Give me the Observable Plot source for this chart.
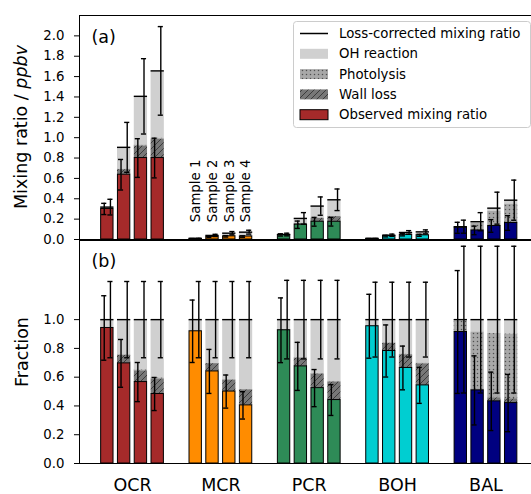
<!DOCTYPE html>
<html><head><meta charset="utf-8">
<script src="https://cdn.jsdelivr.net/npm/d3@7"></script>
<script src="https://cdn.jsdelivr.net/npm/@observablehq/plot@0.6"></script>
<style>
html,body{margin:0;padding:0;overflow:hidden;background:#fff;}
#wrap{position:relative;width:531px;height:494px;overflow:hidden;font-family:"DejaVu Sans",sans-serif;}
#wrap svg{display:block;max-width:none !important;}
</style></head><body>
<svg width="0" height="0" style="position:absolute">
<defs>
<pattern id="hatchWall" patternUnits="userSpaceOnUse" width="6" height="6">
<rect width="6" height="6" fill="#787878"/>
<path d="M-1,1 l2,-2 M0,6 l6,-6 M5,7 l2,-2" stroke="#3c3c3c" stroke-width="1"/>
</pattern>
<pattern id="dotPhot" patternUnits="userSpaceOnUse" width="4" height="4">
<rect width="4" height="4" fill="#a8a8a8"/>
<circle cx="1.5" cy="1.5" r="0.75" fill="#505050"/>
</pattern>
</defs></svg>
<div id="wrap"></div>
<script>
// ---------- data ----------
const groups = ["OCR", "MCR", "PCR", "BOH", "BAL"];
const colors = ["#a52a2a", "#ff8c00", "#2e8b57", "#00ced1", "#000080"];
const samples = ["Sample 1", "Sample 2", "Sample 3", "Sample 4"];
const ticksA = [0.0, 0.2, 0.4, 0.6, 0.8, 1.0, 1.2, 1.4, 1.6, 1.8, 2.0];
const ticksB = [0.0, 0.2, 0.4, 0.6, 0.8, 1.0];
const legendLabels = ["Loss-corrected mixing ratio", "OH reaction", "Photolysis", "Wall loss", "Observed mixing ratio"];

// Panel (a): mixing ratios in ppbv, [group][sample]
const obsA  = [[0.300, 0.636, 0.800, 0.800], [0.008, 0.026, 0.031, 0.029], [0.045, 0.145, 0.174, 0.174], [0.008, 0.033, 0.046, 0.041], [0.115, 0.089, 0.133, 0.162]];
const wallA = [[0.002, 0.050, 0.118, 0.184], [0.000, 0.002, 0.005, 0.008], [0.001, 0.012, 0.033, 0.051], [0.000, 0.0023, 0.0066, 0.0116], [0.000, 0.0018, 0.0077, 0.0116]];
const photA = [[0.001, 0.005, 0.010, 0.010], [0.000, 0.000, 0.000, 0.000], [0.000, 0.003, 0.003, 0.003], [0.000, 0.0003, 0.0004, 0.0004], [0.0096, 0.069, 0.137, 0.174]];
const ohA   = [[0.015, 0.214, 0.478, 0.662], [0.0007, 0.012, 0.026, 0.035], [0.003, 0.047, 0.118, 0.162], [0.0004, 0.0064, 0.016, 0.022], [0.0013, 0.015, 0.030, 0.0386]];
const errObsA = [[0.055, 0.150, 0.190, 0.195], [0.002, 0.006, 0.007, 0.007], [0.011, 0.036, 0.043, 0.042], [0.0019, 0.0076, 0.0106, 0.0094], [0.054, 0.042, 0.062, 0.072]];
const errTotA = [[0.077, 0.245, 0.370, 0.435], [0.0025, 0.011, 0.016, 0.019], [0.013, 0.057, 0.090, 0.106], [0.0022, 0.011, 0.018, 0.0195], [0.064, 0.089, 0.157, 0.197]];

// Panel (b): fractions of the loss-corrected mixing ratio
const obsB  = [[0.942, 0.696, 0.566, 0.483], [0.919, 0.640, 0.500, 0.404], [0.926, 0.675, 0.524, 0.441], [0.954, 0.782, 0.664, 0.543], [0.914, 0.508, 0.432, 0.420]];
const wallB = [[0.000, 0.056, 0.078, 0.105], [0.000, 0.054, 0.080, 0.108], [0.004, 0.058, 0.097, 0.125], [0.002, 0.054, 0.092, 0.150], [0.000, 0.010, 0.025, 0.030]];
const photB = [[0.003, 0.004, 0.006, 0.006], [0.002, 0.002, 0.003, 0.003], [0.002, 0.002, 0.004, 0.005], [0.001, 0.002, 0.003, 0.005], [0.076, 0.396, 0.446, 0.450]];
const ohB   = [[0.055, 0.244, 0.350, 0.406], [0.079, 0.304, 0.417, 0.485], [0.068, 0.265, 0.375, 0.429], [0.043, 0.162, 0.241, 0.302], [0.010, 0.086, 0.097, 0.100]];
const errObsB = [[0.224, 0.166, 0.136, 0.115], [0.217, 0.153, 0.115, 0.095], [0.225, 0.167, 0.129, 0.107], [0.222, 0.181, 0.152, 0.125], [0.427, 0.240, 0.203, 0.199]];
const errTotB = [[0.265, 0.265, 0.265, 0.265], [0.265, 0.265, 0.265, 0.265], [0.273, 0.273, 0.273, 0.273], [0.260, 0.260, 0.260, 0.260], [0.510, 0.510, 0.510, 0.510]];

// ---------- layout ----------
const W = 540;                 // figure is wider than the window; right edge cropped
const xDom = [-0.6, 4.6];
const pitch = 0.19, halfBar = 0.075, halfObs = 0.07, errOff = 0.035, capHalf = 0.029;
const fontFam = "DejaVu Sans, sans-serif";
const groupIdx = groups.map((_, i) => i);

function build(obs, wall, phot, oh, eObs, eTot) {
  const out = [];
  groups.forEach((g, gi) => samples.forEach((s, si) => {
    const o = obs[gi][si], w = wall[gi][si], p = phot[gi][si], h = oh[gi][si];
    out.push({gi, si, x: gi + (si - 1.5) * pitch, obs: o, b2: o + w, b3: o + w + p, tot: o + w + p + h,
              eo: eObs[gi][si], et: eTot[gi][si], color: colors[gi]});
  }));
  return out;
}

function barMarks(D) {
  const xa = d => d.x - halfBar, xb = d => d.x + halfBar;
  const xo = d => d.x - errOff, xt = d => d.x + errOff;
  const eb = {stroke: "black", strokeWidth: 1.4};
  return [
    Plot.rect(D, {x1: xa, x2: xb, y1: "b3", y2: "tot", fill: "#d0d0d0"}),
    Plot.rect(D, {x1: xa, x2: xb, y1: "b2", y2: "b3", fill: "url(#dotPhot)"}),
    Plot.rect(D, {x1: xa, x2: xb, y1: "obs", y2: "b2", fill: "url(#hatchWall)"}),
    Plot.rect(D, {x1: d => d.x - halfObs, x2: d => d.x + halfObs, y1: 0, y2: "obs", fill: "color", stroke: "black", strokeWidth: 1}),
    Plot.ruleY(D, {x1: xa, x2: xb, y: "tot", stroke: "black", strokeWidth: 1.4}),
    Plot.ruleX(D, {x: xo, y1: d => d.obs - d.eo, y2: d => d.obs + d.eo, ...eb}),
    Plot.ruleY(D, {x1: d => xo(d) - capHalf, x2: d => xo(d) + capHalf, y: d => d.obs - d.eo, ...eb}),
    Plot.ruleY(D, {x1: d => xo(d) - capHalf, x2: d => xo(d) + capHalf, y: d => d.obs + d.eo, ...eb}),
    Plot.ruleX(D, {x: xt, y1: d => d.tot - d.et, y2: d => d.tot + d.et, ...eb}),
    Plot.ruleY(D, {x1: d => xt(d) - capHalf, x2: d => xt(d) + capHalf, y: d => d.tot - d.et, ...eb}),
    Plot.ruleY(D, {x1: d => xt(d) - capHalf, x2: d => xt(d) + capHalf, y: d => d.tot + d.et, ...eb})
  ];
}

const A = build(obsA, wallA, photA, ohA, errObsA, errTotA);
const B = build(obsB, wallB, photB, ohB, errObsB, errTotB);
const yDomA = [0, 2.2], yDomB = [0, 1.55];
const style = {fontFamily: fontFam, fontSize: "13.3px", color: "black", background: "transparent", overflow: "visible", maxWidth: "none"};

const plotA = Plot.plot({
  width: W, height: 240, marginLeft: 79, marginRight: 1.5, marginTop: 15, marginBottom: 1,
  x: {domain: xDom, axis: null}, y: {domain: yDomA, axis: null}, color: {type: "identity"},
  style,
  marks: [
    ...barMarks(A),
    Plot.text(samples, {x: (d, i) => 1 + (i - 1.5) * pitch, y: 0.17, text: d => d, rotate: -90, textAnchor: "start", lineAnchor: "middle", fontSize: 13.3}),
    Plot.axisY({ticks: ticksA, tickFormat: d3.format(".1f"), tickSize: 5, tickPadding: 10, label: null, fontSize: 13.3}),
    Plot.ruleX([xDom[0]], {stroke: "black", strokeWidth: 1}),
    Plot.ruleY([yDomA[1]], {stroke: "black", strokeWidth: 1}),
    Plot.ruleY([0], {stroke: "black", strokeWidth: 1}),
    Plot.text(["(a)"], {frameAnchor: "top-left", dx: 12, dy: 22, textAnchor: "start", lineAnchor: "middle", fontSize: 17.5})
  ]
});

const plotB = Plot.plot({
  width: W, height: 254, marginLeft: 79, marginRight: 1.5, marginTop: 0, marginBottom: 31,
  x: {domain: xDom, axis: null}, y: {domain: yDomB, axis: null}, color: {type: "identity"},
  style,
  marks: [
    ...barMarks(B),
    Plot.axisY({ticks: ticksB, tickFormat: d3.format(".1f"), tickSize: 5, tickPadding: 10, label: null, fontSize: 13.3}),
    Plot.axisX({ticks: groupIdx, tickFormat: i => groups[i], tickSize: 0, tickPadding: 15, label: null, fontSize: 17.5}),
    Plot.ruleX([xDom[0]], {stroke: "black", strokeWidth: 1}),
    Plot.ruleY([yDomB[1]], {stroke: "black", strokeWidth: 1}),
    Plot.ruleY([0], {stroke: "black", strokeWidth: 1}),
    Plot.text(["(b)"], {frameAnchor: "top-left", dx: 12, dy: 21, textAnchor: "start", lineAnchor: "middle", fontSize: 17.5})
  ]
});

const wrap = document.getElementById("wrap");
for (const p of [plotA, plotB]) { p.style.maxWidth = "none"; p.style.width = W + "px"; p.style.height = p.getAttribute("height") + "px"; }
wrap.appendChild(plotA);
wrap.appendChild(plotB);

// y-axis titles
function yTitle(svg, cx, cy, parts) {
  const t = d3.select(svg).append("text")
    .attr("transform", `translate(${cx},${cy}) rotate(-90)`)
    .attr("text-anchor", "middle").attr("dominant-baseline", "central")
    .attr("font-family", fontFam).attr("font-size", 17.5).attr("fill", "black");
  parts.forEach(p => t.append("tspan").attr("font-style", p.italic ? "italic" : "normal").text(p.text));
}
yTitle(plotA, 21, 127, [{text: "Mixing ratio / "}, {text: "ppbv", italic: true}]);
yTitle(plotB, 22, 112, [{text: "Fraction"}]);

// legend (inside panel a, upper right)
const leg = d3.select(wrap).append("svg")
  .attr("width", 240).attr("height", 108)
  .style("position", "absolute").style("left", "293px").style("top", "21px");
leg.append("rect").attr("x", 0.5).attr("y", 0.5).attr("width", 237).attr("height", 106).attr("rx", 3)
  .attr("fill", "white").attr("fill-opacity", 0.8).attr("stroke", "#cccccc");
const swatchFill = [null, "#d0d0d0", "url(#dotPhot)", "url(#hatchWall)", colors[0]];
legendLabels.forEach((lab, i) => {
  const cy = 12.5 + i * 20.3;
  if (i === 0) {
    leg.append("line").attr("x1", 7).attr("x2", 35).attr("y1", cy).attr("y2", cy).attr("stroke", "black").attr("stroke-width", 1.5);
  } else {
    leg.append("rect").attr("x", 7).attr("y", cy - 5).attr("width", 28).attr("height", 10)
      .attr("fill", swatchFill[i]).attr("stroke", i === 4 ? "black" : "none").attr("stroke-width", 1);
  }
  leg.append("text").attr("x", 46).attr("y", cy).attr("dominant-baseline", "central")
    .attr("font-family", fontFam).attr("font-size", 13.3).attr("fill", "black").text(lab);
});
</script>
</body></html>
